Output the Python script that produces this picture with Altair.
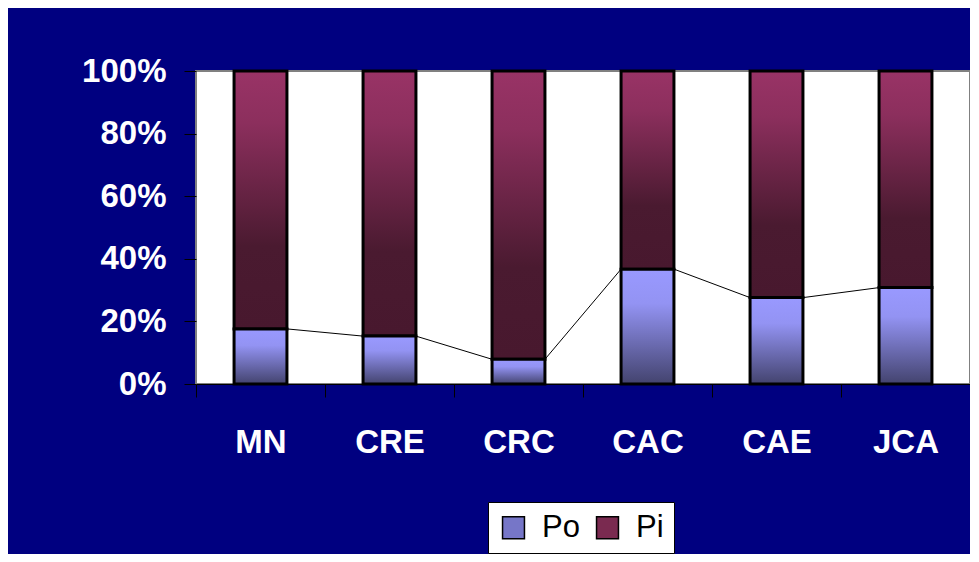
import altair as alt
import pandas as pd

categories = ["MN", "CRE", "CRC", "CAC", "CAE", "JCA"]
po_values = [17.6, 15.3, 7.9, 36.7, 27.6, 30.8]
pi_values = [82.4, 84.7, 92.1, 63.3, 72.4, 69.2]
series_names = ["Po", "Pi"]
y_ticks = [0, 0.2, 0.4, 0.6, 0.8, 1.0]

rows = []
for c, po, pi in zip(categories, po_values, pi_values):
    tot = po + pi
    rows.append({"cat": c, "series": "Po", "y0": 0.0, "y1": po / tot})
    rows.append({"cat": c, "series": "Pi", "y0": po / tot, "y1": 1.0})
df = pd.DataFrame(rows)

line_rows = []
for i in range(len(categories) - 1):
    a = po_values[i] / (po_values[i] + pi_values[i])
    b = po_values[i + 1] / (po_values[i + 1] + pi_values[i + 1])
    line_rows.append({"cat": categories[i], "nxt": categories[i + 1], "y": a, "y2": b})
ldf = pd.DataFrame(line_rows)

FONT = "Liberation Sans"
BAND = 0.41

xscale = alt.Scale(domain=categories, paddingInner=0, paddingOuter=0)
yscale = alt.Scale(domain=[0, 1], nice=False)

x_enc = alt.X(
    "cat:N", sort=categories, scale=xscale, title=None,
    axis=alt.Axis(labelAngle=0, labelFont=FONT, labelFontSize=33, labelFontWeight="bold",
                  labelColor="white", tickBand="extent", tickSize=13, tickColor="black",
                  tickWidth=1, domainColor="black", domainWidth=1, labelPadding=29),
)
y_enc = alt.Y(
    "y0:Q", scale=yscale, title=None,
    axis=alt.Axis(values=y_ticks, format=".0%", labelFont=FONT, labelFontSize=33,
                  labelFontWeight="bold", labelColor="white", tickSize=12, tickColor="black",
                  tickWidth=1, labelPadding=18, domain=False, grid=False),
)

po_grad = alt.LinearGradient(
    gradient="linear", x1=0, x2=0, y1=0, y2=1,
    stops=[alt.GradientStop(color="#9999ff", offset=0),
           alt.GradientStop(color="#9393f3", offset=0.3),
           alt.GradientStop(color="#43436e", offset=1)],
)
pi_grad = alt.LinearGradient(
    gradient="linear", x1=0, x2=0, y1=0, y2=1,
    stops=[alt.GradientStop(color="#993366", offset=0),
           alt.GradientStop(color="#8c2f5d", offset=0.2),
           alt.GradientStop(color="#4a1a30", offset=0.68),
           alt.GradientStop(color="#48182e", offset=1)],
)

base = alt.Chart(df).mark_bar(width=alt.RelativeBandSize(BAND)).encode(
    x=x_enc,
    y=y_enc,
    y2="y1:Q",
    color=alt.Color(
        "series:N", sort=series_names,
        scale=alt.Scale(domain=series_names, range=["#7676c8", "#7a2a50"]),
        legend=alt.Legend(
            title=None, orient="none", legendX=292, legendY=431, direction="horizontal",
            symbolType="square", symbolSize=480, symbolStrokeColor="black",
            symbolStrokeWidth=1.5, labelFont=FONT, labelFontSize=31, labelColor="black",
            fillColor="white", strokeColor="black", padding=10, labelOffset=13,
            columnPadding=12, symbolOpacity=1,
        ),
    ),
)

po_layer = alt.Chart(df).transform_filter(alt.datum.series == "Po").mark_bar(
    width=alt.RelativeBandSize(BAND), fill=po_grad, stroke="black", strokeWidth=3
).encode(x=alt.X("cat:N", sort=categories), y="y0:Q", y2="y1:Q")

pi_layer = alt.Chart(df).transform_filter(alt.datum.series == "Pi").mark_bar(
    width=alt.RelativeBandSize(BAND), fill=pi_grad, stroke="black", strokeWidth=3
).encode(x=alt.X("cat:N", sort=categories), y="y0:Q", y2="y1:Q")

lines = alt.Chart(ldf).mark_rule(color="black", strokeWidth=1).encode(
    x=alt.X("cat:N", sort=categories, bandPosition=0.5 + BAND / 2),
    x2=alt.X2("nxt:N", bandPosition=0.5 - BAND / 2),
    y="y:Q",
    y2="y2:Q",
)

chart = alt.layer(base, pi_layer, po_layer, lines).properties(
    width=774,
    height=313,
    background="#000080",
    autosize=alt.AutoSizeParams(type="none"),
    padding={"left": 188, "top": 63, "right": 0, "bottom": 170},
).configure_view(stroke="#808080", strokeWidth=2, fill="white")

chart.save("out.html", embed_options={"renderer": "svg", "actions": False})
